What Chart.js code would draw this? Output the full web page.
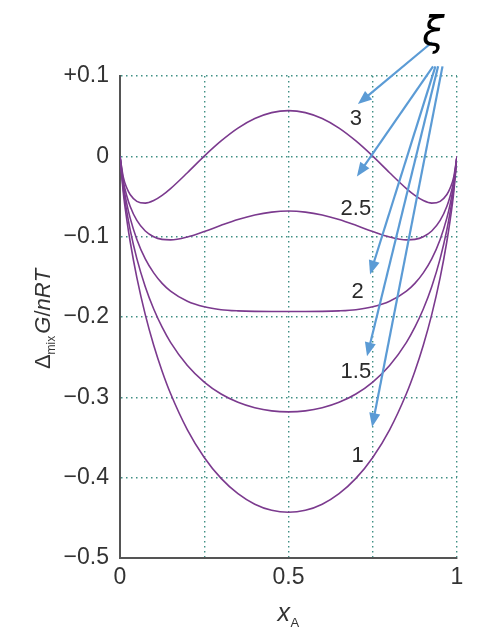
<!DOCTYPE html>
<html>
<head>
<meta charset="utf-8">
<script src="https://cdn.jsdelivr.net/npm/chart.js@4.4.0/dist/chart.umd.min.js"></script>
<style>
html,body{margin:0;padding:0;background:#fff;}
#wrap{width:480px;height:630px;}
</style>
</head>
<body>
<div id="wrap"><canvas id="grafico"></canvas></div>
<script>
// mole fraction x_A
const xA = [0,0.01,0.02,0.03,0.05,0.075,0.1,0.125,0.15,0.2,0.25,0.3,0.35,0.4,0.45,0.5,
0.55,0.6,0.65,0.7,0.75,0.8,0.85,0.875,0.9,0.925,0.95,0.97,0.98,0.99,1];

// ΔmixG/nRT for each ξ
const xi1 = [0,-0.0461,-0.0784,-0.1057,-0.1510,-0.1970,-0.2351,-0.2674,-0.2952,-0.3404,-0.3748,-0.4009,-0.4199,-0.4330,-0.4406,-0.4431,
-0.4406,-0.4330,-0.4199,-0.4009,-0.3748,-0.3404,-0.2952,-0.2674,-0.2351,-0.1970,-0.1510,-0.1057,-0.0784,-0.0461,0];
const xi15 = [0,-0.0412,-0.0686,-0.0912,-0.1273,-0.1623,-0.1901,-0.2127,-0.2315,-0.2604,-0.2810,-0.2959,-0.3062,-0.3130,-0.3169,-0.3181,
-0.3169,-0.3130,-0.3062,-0.2959,-0.2810,-0.2604,-0.2315,-0.2127,-0.1901,-0.1623,-0.1273,-0.0912,-0.0686,-0.0412,0];
const xi2 = [0,-0.0362,-0.0588,-0.0766,-0.1035,-0.1277,-0.1451,-0.1581,-0.1677,-0.1804,-0.1873,-0.1909,-0.1924,-0.1930,-0.1931,-0.1931,
-0.1931,-0.1930,-0.1924,-0.1909,-0.1873,-0.1804,-0.1677,-0.1581,-0.1451,-0.1277,-0.1035,-0.0766,-0.0588,-0.0362,0];
const xi25 = [0,-0.0313,-0.0490,-0.0621,-0.0798,-0.0930,-0.1001,-0.1034,-0.1040,-0.1004,-0.0936,-0.0859,-0.0787,-0.0730,-0.0694,-0.0681,
-0.0694,-0.0730,-0.0787,-0.0859,-0.0936,-0.1004,-0.1040,-0.1034,-0.1001,-0.0930,-0.0798,-0.0621,-0.0490,-0.0313,0];
const xi3 = [0,-0.0263,-0.0392,-0.0475,-0.0560,-0.0583,-0.0551,-0.0487,-0.0402,-0.0204,0.0002,0.0191,0.0351,0.0470,0.0544,0.0569,
0.0544,0.0470,0.0351,0.0191,0.0002,-0.0204,-0.0402,-0.0487,-0.0551,-0.0583,-0.0560,-0.0475,-0.0392,-0.0263,0];

const curveNames = ["1","1.5","2","2.5","3"];
const curves = [xi1,xi15,xi2,xi25,xi3];

// tick labels
const yTicks = {"-0.5":"\u22120.5","-0.4":"\u22120.4","-0.3":"\u22120.3","-0.2":"\u22120.2","-0.1":"\u22120.1","0":"0","0.1":"+0.1"};
const xTicks = {"0":"0","0.5":"0.5","1":"1"};

// curve label spots and arrows (data coords)
const labelSpots = [[0.705,-0.373],[0.70,-0.268],[0.705,-0.169],[0.70,-0.066],[0.70,0.047]];
const xiSpot = [0.93,0.152];
const arrows = [
 [[0.926,0.142],[0.706,0.065]],
 [[0.929,0.112],[0.703,-0.025]],
 [[0.936,0.112],[0.742,-0.147]],
 [[0.944,0.112],[0.733,-0.249]],
 [[0.957,0.112],[0.748,-0.337]]
];

const fam = "'Liberation Sans', Arial, sans-serif";
const tickFont = {family:fam, size:23};

const decor = {
id:"decor",
afterDraw(chart){
const ctx = chart.ctx, xs = chart.scales.x, ys = chart.scales.y;
ctx.save();
// curve labels
ctx.fillStyle = "#2b2b2b";
ctx.font = "22px " + fam;
ctx.textAlign = "center";
ctx.textBaseline = "middle";
labelSpots.forEach((p,i)=>{
ctx.fillText(curveNames[i], xs.getPixelForValue(p[0]), ys.getPixelForValue(p[1]));
});
// arrows
ctx.strokeStyle = "#5b9bd5";
ctx.fillStyle = "#5b9bd5";
ctx.lineWidth = 2.2;
arrows.forEach(a=>{
const x1 = xs.getPixelForValue(a[0][0]), y1 = ys.getPixelForValue(a[0][1]);
const x2 = xs.getPixelForValue(a[1][0]), y2 = ys.getPixelForValue(a[1][1]);
const ang = Math.atan2(y2-y1, x2-x1), h = 15, w = 0.38;
const bx = x2 - h*0.8*Math.cos(ang), by = y2 - h*0.8*Math.sin(ang);
ctx.beginPath(); ctx.moveTo(x1,y1); ctx.lineTo(bx,by); ctx.stroke();
ctx.beginPath();
ctx.moveTo(x2,y2);
ctx.lineTo(x2 - h*Math.cos(ang-w), y2 - h*Math.sin(ang-w));
ctx.lineTo(x2 - h*Math.cos(ang+w), y2 - h*Math.sin(ang+w));
ctx.closePath(); ctx.fill();
});
// xi
ctx.fillStyle = "#000";
ctx.font = "italic 40px 'DejaVu Sans', sans-serif";
ctx.fillText("\u03BE", xs.getPixelForValue(xiSpot[0]), ys.getPixelForValue(xiSpot[1]));
// x axis title
const cx = (xs.left+xs.right)/2;
ctx.fillStyle = "#333";
ctx.textAlign = "left";
ctx.textBaseline = "alphabetic";
ctx.font = "italic 25px " + fam;
ctx.fillText("x", cx-11, 621);
ctx.font = "13px " + fam;
ctx.fillText("A", cx+2, 627);
// y axis title
ctx.translate(50, (ys.top+ys.bottom)/2 + 2);
ctx.rotate(-Math.PI/2);
const parts = [
["\u0394","22px",0],["mix","12px",5],["G","italic 22px",0],["/","22px",0],
["n","italic 22px",0],["R","italic 22px",0],["T","italic 22px",0]
];
let total = 0;
parts.forEach(p=>{ctx.font = p[1]+" "+fam; total += ctx.measureText(p[0]).width + (p[0]==="mix"?2:0);});
let px = -total/2;
parts.forEach(p=>{
ctx.font = p[1]+" "+fam;
ctx.fillText(p[0], px, p[2]);
px += ctx.measureText(p[0]).width + (p[0]==="mix"?2:0);
});
ctx.restore();
}
};

new Chart(document.getElementById("grafico"),{
type:"line",
data:{
datasets: curves.map((c,i)=>({
label:"\u03BE = "+curveNames[i],
data: xA.map((x,j)=>({x:x, y:c[j]})),
borderColor:"#7b3a8e",
borderWidth:1.6,
pointRadius:0,
cubicInterpolationMode:"monotone",
fill:false
}))
},
options:{
responsive:true,
maintainAspectRatio:false,
animation:false,
layout:{padding:{top:76,right:23,left:0,bottom:0}},
plugins:{legend:{display:false},tooltip:{enabled:false}},
scales:{
x:{
type:"linear",min:0,max:1,
afterFit(s){s.height = 72;},
grid:{color:"#3f8f84",lineWidth:1.4,drawTicks:false},
border:{display:true,color:"#555",width:2,dash:[1.5,3.5]},
ticks:{stepSize:0.25,padding:6,color:"#333",font:tickFont,maxRotation:0,
callback:v=>xTicks[String(Math.round(v*100)/100)] || ""}
},
y:{
min:-0.5,max:0.1,
afterFit(s){s.width = 120;},
grid:{color:"#3f8f84",lineWidth:1.4,drawTicks:false},
border:{display:true,color:"#555",width:2,dash:[1.5,3.5]},
ticks:{stepSize:0.1,padding:11,color:"#333",font:tickFont,
callback:v=>yTicks[String(Math.round(v*10)/10)] || ""}
}
}
},
plugins:[decor]
});
</script>
</body>
</html>
